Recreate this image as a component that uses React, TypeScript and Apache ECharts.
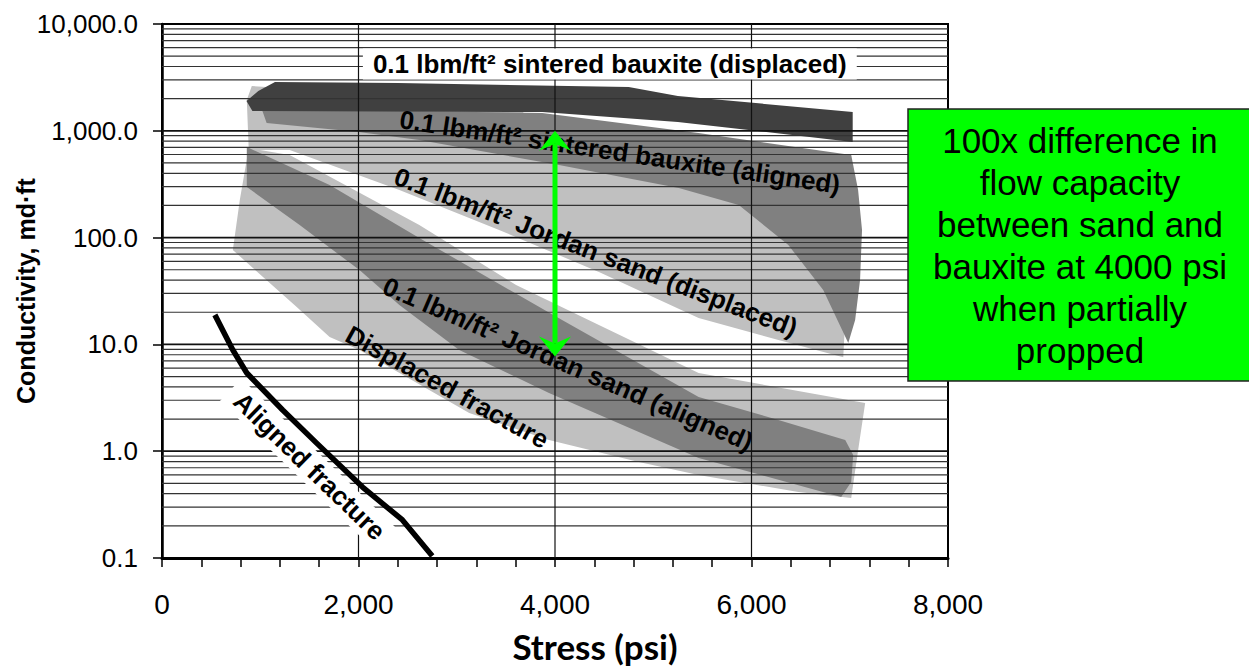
import React, { useEffect, useRef } from 'react';
import * as echarts from 'echarts';

const FONT = '"Liberation Sans", Arial, Helvetica, sans-serif';

// Axis tick labels
const xTickLabels = ['0', '2,000', '4,000', '6,000', '8,000'];
const yTickLabels = ['0.1', '1.0', '10.0', '100.0', '1,000.0', '10,000.0'];

// Band outlines: stress (psi) and conductivity (md·ft), walked around each envelope
const bauxiteDisplacedStress = [860, 980, 1150, 2400, 4750, 5250, 7030, 7030, 5250, 3870, 920];
const bauxiteDisplacedCond = [1900, 2360, 2860, 2800, 2570, 2120, 1500, 785, 1210, 1500, 1530];

const bauxiteAlignedStress = [1015, 3870, 5460, 7015, 7085, 7125, 7105, 7055, 6985, 6730, 6375, 5870, 5260, 4040, 2620, 2000, 1065];
const bauxiteAlignedCond = [1600, 1470, 954, 593, 279, 118, 40, 16.9, 10.3, 32.3, 85.3, 202, 291, 478, 820, 975, 1184];

const jordanDisplacedStress = [914, 2416, 3634, 4040, 5259, 6274, 6883, 6964, 6934, 6274, 5462, 4447, 3431, 2416, 1299, 883, 863];
const jordanDisplacedCond = [2627, 2164, 1635, 661, 430, 225, 61.7, 26.1, 7.6, 11.0, 17.7, 47.6, 118, 279, 661, 661, 1943];

const fractureDisplacedStress = [883, 1299, 2619, 3604, 4447, 5462, 7157, 7086, 7015, 6477, 5462, 4853, 3939, 3127, 2010, 1706, 1371, 721, 792];
const fractureDisplacedCond = [690, 593, 131, 36.0, 15.2, 5.4, 2.83, 1.03, 0.365, 0.415, 0.599, 0.793, 1.27, 2.28, 8.86, 11.7, 22.4, 76.5, 225];

const jordanAlignedStress = [863, 1706, 2619, 4000, 5462, 6274, 6954, 7035, 7015, 6913, 5462, 3939, 3025, 2416, 2010, 1401, 863];
const jordanAlignedCond = [705, 311, 99.2, 18.4, 3.22, 1.96, 1.27, 0.921, 0.515, 0.373, 0.864, 3.51, 8.86, 23.4, 49.7, 131, 298];

// Unpropped aligned fracture curve
const alignedFractureStress = [538, 721, 863, 1228, 1574, 2041, 2447, 2751];
const alignedFractureCond = [18.9, 8.86, 5.4, 2.43, 1.19, 0.462, 0.227, 0.1045];

// Sand vs bauxite comparison at 4000 psi
const arrowStress = 4000;
const arrowCond = [1000, 7.7];

// In-plot annotations (anchor in data units, angle in degrees)
const annotations = [
  { text: '0.1 lbm/ft² sintered bauxite (displaced)', stress: 4558, cond: 4222, angle: 0, boxed: true },
  { text: '0.1 lbm/ft² sintered bauxite (aligned)', stress: 4660, cond: 633, angle: -8.5, boxed: false },
  { text: '0.1 lbm/ft² Jordan sand (displaced)', stress: 4416, cond: 73.3, angle: -21, boxed: false },
  { text: '0.1 lbm/ft² Jordan sand (aligned)', stress: 4132, cond: 6.56, angle: -23.3, boxed: false },
  { text: 'Displaced fracture', stress: 2903, cond: 3.99, angle: -28.7, boxed: false },
  { text: 'Aligned fracture', stress: 1502, cond: 0.727, angle: -44, boxed: true },
];

const calloutLines = [
  '100x difference in',
  'flow capacity',
  'between sand and',
  'bauxite at 4000 psi',
  'when partially',
  'propped',
];

// Log-scale grid values
const decades = [0.1, 1, 10, 100, 1000];
const multipliers = [2, 3, 4, 5, 6, 7, 8, 9];
const majorGrid = [1, 10, 100, 1000];
const verticalGrid = [2000, 4000, 6000];

const X_MIN = 0;
const X_MAX = 8000;

function band(name: string, stress: number[], cond: number[], color: string, z: number) {
  return {
    type: 'custom',
    name,
    z,
    silent: true,
    data: [[stress[0], cond[0]]],
    renderItem: (_p: any, api: any) => ({
      type: 'polygon',
      shape: { points: stress.map((s, i) => api.coord([s, cond[i]])) },
      style: { fill: color, stroke: null },
    }),
  };
}

export default function App() {
  const ref = useRef<HTMLDivElement>(null);

  useEffect(() => {
    if (!ref.current) return;
    const chart = echarts.init(ref.current, null, { renderer: 'svg' });

    const minorGrid: number[] = [];
    decades.forEach((d) => multipliers.forEach((m) => minorGrid.push(+(d * m).toPrecision(3))));

    const option: any = {
      animation: false,
      backgroundColor: '#fff',
      grid: {
        left: 162,
        right: 301,
        top: 24,
        bottom: 109,
        containLabel: false,
        outerBoundsMode: 'none',
        show: true,
        borderColor: '#000',
        borderWidth: 2,
        backgroundColor: 'transparent',
      },
      xAxis: {
        type: 'value',
        min: X_MIN,
        max: X_MAX,
        interval: 2000,
        axisLine: { show: true, lineStyle: { color: '#000', width: 3 } },
        axisTick: { show: true, length: 9, lineStyle: { color: '#000', width: 1.5 } },
        minorTick: { show: true, splitNumber: 5, length: 9, lineStyle: { color: '#000', width: 1.5 } },
        splitLine: { show: false },
        axisLabel: {
          formatter: (v: number) => xTickLabels[Math.round(v / 2000)],
          fontSize: 28,
          fontFamily: FONT,
          color: '#000',
          margin: 32,
        },
        name: 'Stress (psi)',
        nameLocation: 'middle',
        nameGap: 70,
        nameMoveOverlap: false,
        nameTextStyle: {
          fontFamily: 'Lato',
          fontWeight: 'bold',
          fontSize: 35,
          color: '#000',
          padding: [0, 0, 0, 80],
        },
      },
      yAxis: {
        type: 'log',
        logBase: 10,
        min: 0.1,
        max: 10000,
        splitNumber: 5,
        axisLine: { show: true, lineStyle: { color: '#000', width: 2.5 } },
        axisTick: { show: true, length: 9, lineStyle: { color: '#000', width: 1.5 } },
        splitLine: { show: false },
        axisLabel: {
          formatter: (v: number) => yTickLabels[Math.round(Math.log10(v)) + 1],
          fontSize: 26,
          fontFamily: FONT,
          color: '#000',
          margin: 24,
        },
        name: 'Conductivity, md·ft',
        nameLocation: 'middle',
        nameGap: 124,
        nameMoveOverlap: false,
        nameTextStyle: { fontFamily: FONT, fontWeight: 'bold', fontSize: 25, color: '#000' },
      },
      series: [
        band('Jordan sand (displaced)', jordanDisplacedStress, jordanDisplacedCond, '#c0c0c0', 1),
        band('Displaced fracture', fractureDisplacedStress, fractureDisplacedCond, '#c0c0c0', 1),
        band('Sintered bauxite (aligned)', bauxiteAlignedStress, bauxiteAlignedCond, '#808080', 2),
        band('Jordan sand (aligned)', jordanAlignedStress, jordanAlignedCond, '#808080', 2),
        band('Sintered bauxite (displaced)', bauxiteDisplacedStress, bauxiteDisplacedCond, '#404040', 3),
        {
          type: 'custom',
          name: 'grid lines',
          z: 4,
          silent: true,
          data: [[X_MIN, 1]],
          renderItem: (_p: any, api: any) => {
            const children: any[] = [];
            const hLine = (v: number, w: number, c: string) => {
              const a = api.coord([X_MIN, v]);
              const b = api.coord([X_MAX, v]);
              children.push({
                type: 'line',
                shape: { x1: a[0], y1: a[1], x2: b[0], y2: b[1] },
                style: { stroke: c, lineWidth: w },
              });
            };
            minorGrid.forEach((v) => hLine(v, 1.2, '#333'));
            majorGrid.forEach((v) => hLine(v, 1.8, '#111'));
            verticalGrid.forEach((x) => {
              const a = api.coord([x, 0.1]);
              const b = api.coord([x, 10000]);
              children.push({
                type: 'line',
                shape: { x1: a[0], y1: a[1], x2: b[0], y2: b[1] },
                style: { stroke: '#111', lineWidth: 1.2 },
              });
            });
            return { type: 'group', children };
          },
        },
        {
          type: 'custom',
          name: 'annotations',
          z: 5,
          silent: true,
          data: [[X_MIN, 1]],
          renderItem: (_p: any, api: any) => ({
            type: 'group',
            children: annotations.map((a) => {
              const pt = api.coord([a.stress, a.cond]);
              return {
                type: 'text',
                x: pt[0],
                y: pt[1],
                rotation: (a.angle * Math.PI) / 180,
                style: {
                  text: a.text,
                  fill: '#000',
                  font: `bold 26px ${FONT}`,
                  align: 'center',
                  verticalAlign: 'middle',
                  textAlign: 'center',
                  textVerticalAlign: 'middle',
                  backgroundColor: a.boxed ? '#fff' : undefined,
                  padding: a.boxed ? [3, 10, 2, 10] : 0,
                },
              };
            }),
          }),
        },
        {
          type: 'line',
          name: 'Aligned fracture',
          z: 6,
          silent: true,
          showSymbol: false,
          symbol: 'none',
          clip: true,
          data: alignedFractureStress.map((s, i) => [s, alignedFractureCond[i]]),
          lineStyle: { color: '#000', width: 5.5, join: 'round' },
        },
        {
          type: 'custom',
          name: 'comparison arrow',
          z: 7,
          silent: true,
          data: [[arrowStress, arrowCond[0]]],
          renderItem: (_p: any, api: any) => {
            const top = api.coord([arrowStress, arrowCond[0]]);
            const bot = api.coord([arrowStress, arrowCond[1]]);
            const w = 16;
            const h = 20;
            const n = 7;
            const green = '#00ff00';
            return {
              type: 'group',
              children: [
                {
                  type: 'line',
                  shape: { x1: top[0], y1: top[1] + h - n, x2: bot[0], y2: bot[1] - h + n },
                  style: { stroke: green, lineWidth: 5 },
                },
                {
                  type: 'polygon',
                  shape: {
                    points: [
                      [top[0], top[1]],
                      [top[0] + w, top[1] + h],
                      [top[0], top[1] + h - n],
                      [top[0] - w, top[1] + h],
                    ],
                  },
                  style: { fill: green },
                },
                {
                  type: 'polygon',
                  shape: {
                    points: [
                      [bot[0], bot[1]],
                      [bot[0] + w, bot[1] - h],
                      [bot[0], bot[1] - h + n],
                      [bot[0] - w, bot[1] - h],
                    ],
                  },
                  style: { fill: green },
                },
              ],
            };
          },
        },
      ],
      graphic: [
        {
          type: 'rect',
          z: 20,
          shape: { x: 908, y: 109, width: 345, height: 272 },
          style: { fill: '#00ff00', stroke: '#222', lineWidth: 1.5 },
        },
        {
          type: 'text',
          z: 21,
          x: 1080,
          y: 245,
          style: {
            text: calloutLines.join('\n'),
            font: `35px ${FONT}`,
            fill: '#000',
            align: 'center',
            verticalAlign: 'middle',
            textAlign: 'center',
            textVerticalAlign: 'middle',
            lineHeight: 42,
          },
        },
      ],
    };

    chart.setOption(option);
    return () => chart.dispose();
  }, []);

  return (
    <div
      ref={ref}
      style={{ position: 'absolute', left: 0, top: 0, width: 1249, height: 667, background: '#fff' }}
    />
  );
}
